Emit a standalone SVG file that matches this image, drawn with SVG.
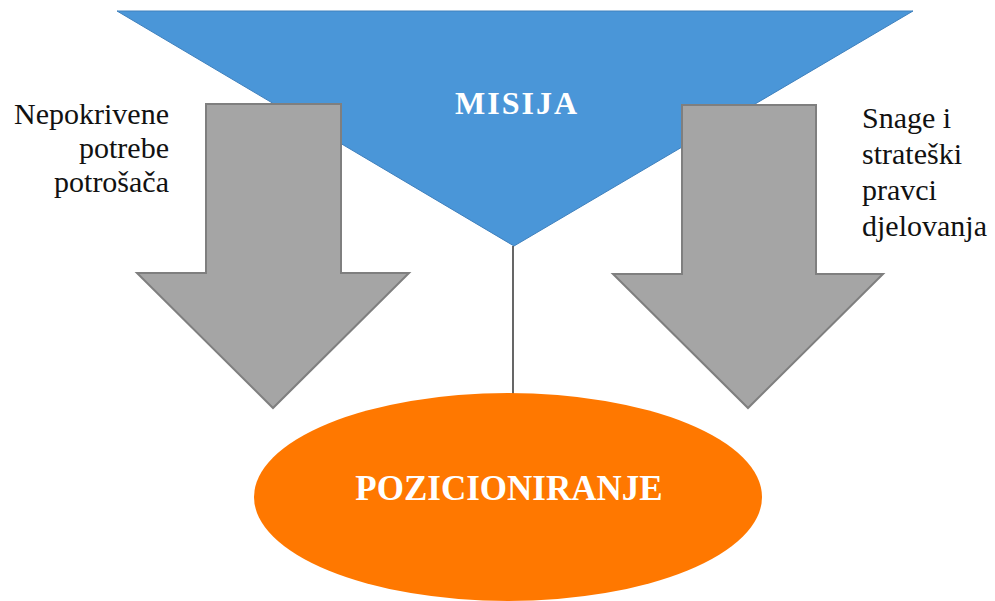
<svg xmlns="http://www.w3.org/2000/svg" width="995" height="601" viewBox="0 0 995 601">
<style>
.arrow{fill:#a5a5a5;stroke:#7f7f7f;stroke-width:2;stroke-linejoin:miter}
.serif{font-family:'Liberation Serif','Times New Roman','DejaVu Serif',serif}
</style>
<rect width="995" height="601" fill="#fff"/>
<g id="misija">
<polygon points="117,11 913,11 514,246" fill="#4a96d8" stroke="#3f80bd" stroke-width="1"/>
<text class="serif" x="517" y="114" font-weight="bold" font-size="32" letter-spacing="2" fill="#fff" text-anchor="middle">MISIJA</text>
</g>
<g id="arrow-left">
<polygon class="arrow" points="206,104 341,104 341,273 409,273 273,408 137,273 206,273"/>
</g>
<g id="arrow-right">
<polygon class="arrow" points="682,105 816,105 816,274 883,274 748,408 613,274 682,274"/>
</g>
<g id="connectors">
<line x1="513" y1="246" x2="513" y2="394" stroke="#000" stroke-width="1.2"/>
</g>
<g id="pozicioniranje">
<ellipse cx="508" cy="497" rx="254" ry="104" fill="#ff7800"/>
<text class="serif" x="509" y="500" font-weight="bold" font-size="35" fill="#fff" text-anchor="middle">POZICIONIRANJE</text>
</g>
<g id="label-left">
<text class="serif" font-size="30" fill="#111" text-anchor="end"><tspan x="169" y="124">Nepokrivene</tspan><tspan x="169" y="158">potrebe</tspan><tspan x="169" y="192">potrošača</tspan></text>
</g>
<g id="label-right">
<text class="serif" font-size="30" fill="#111"><tspan x="862" y="128">Snage i</tspan><tspan x="862" y="164">strateški</tspan><tspan x="862" y="200">pravci</tspan><tspan x="862" y="236">djelovanja</tspan></text>
</g>
</svg>
